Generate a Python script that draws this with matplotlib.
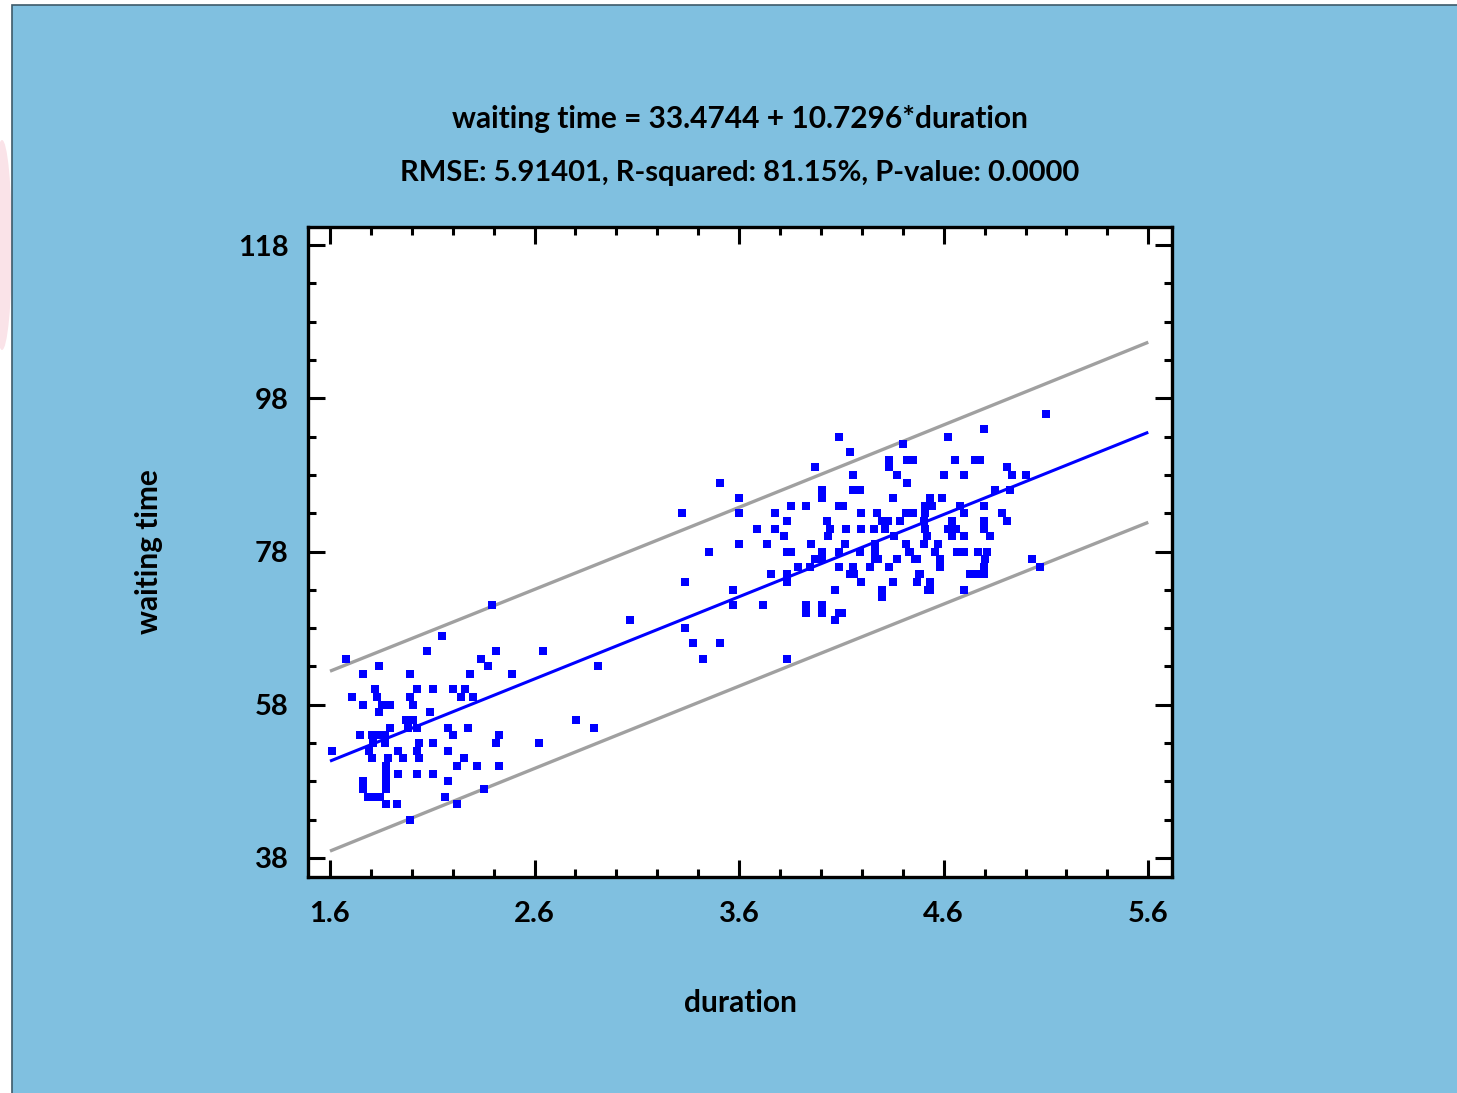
import numpy as np
import matplotlib
matplotlib.use("Agg")
import matplotlib.pyplot as plt
from matplotlib.patches import Rectangle, Ellipse

# values (eruption duration, waiting time)
duration = [
    1.678, 2.073, 1.841, 1.760, 1.991, 1.706, 1.760, 1.820, 1.831, 1.853,
    1.893, 1.841, 2.027, 1.991, 2.004, 2.105, 2.203, 2.089, 1.972, 2.007,
    1.983, 2.024, 1.893, 1.747, 1.804, 1.836, 1.869, 1.812, 1.869, 1.792,
    2.178, 2.203, 2.037, 2.105, 1.608, 1.934, 2.024, 2.178, 1.804, 1.885,
    1.955, 2.037, 1.874, 1.874, 1.874, 2.220, 1.931, 2.024, 2.105, 1.760,
    1.760, 1.787, 1.820, 1.845, 1.874, 2.178, 2.162, 1.874, 1.929, 2.220,
    1.991,
    2.391, 2.146, 2.412, 2.640, 2.338, 2.374, 2.285, 2.488, 2.909, 2.260,
    2.239, 2.301, 2.276, 2.428, 2.412, 2.803, 2.891, 2.623, 2.257, 2.320,
    2.428, 2.355,
    3.504, 3.597, 3.597, 3.320, 3.597, 3.453, 3.336, 3.569, 3.569, 3.067,
    3.336, 3.372, 3.507, 3.425,
    3.972, 4.004, 4.004, 4.159, 4.159, 3.854, 3.926, 4.086, 4.110, 3.776,
    4.197, 3.833, 4.029, 3.686, 3.776, 4.045, 4.120, 4.197, 3.817, 4.032,
    3.735, 3.951, 4.118, 3.833, 3.854, 4.004, 4.086, 3.972, 4.004, 3.890,
    3.947, 4.086, 4.159, 3.755, 3.833, 3.833, 4.140, 4.160, 4.197, 4.069,
    3.719, 3.926, 4.004, 3.926, 4.004, 4.086, 4.102, 4.069, 3.833,
    4.086, 4.140, 4.403, 4.335, 4.335, 4.420, 4.450, 4.371, 4.423, 4.192,
    4.351, 4.276, 4.418, 4.450, 4.298, 4.330, 4.387, 4.259, 4.314, 4.355,
    4.265, 4.418, 4.436, 4.192, 4.265, 4.281, 4.240, 4.265, 4.335, 4.371,
    4.469, 4.477, 4.469, 4.351, 4.298, 4.298,
    4.798, 4.620, 4.656, 4.751, 4.778, 4.909, 4.933, 4.602, 4.700, 4.852,
    4.531, 4.591, 4.510, 4.542, 4.681, 4.795, 4.510, 4.697, 4.885, 4.909,
    4.505, 4.639, 4.795, 4.510, 4.621, 4.662, 4.795, 4.639, 4.697, 4.827,
    4.520, 4.505, 4.572, 4.429, 4.462, 4.558, 4.583, 4.664, 4.697, 4.770,
    4.811, 4.803, 4.583, 4.795, 4.485, 4.730, 4.762, 4.795, 4.534, 4.523,
    4.534, 4.697,
    5.101, 5.004, 4.925, 5.031, 5.072,
]
waiting = [
    64, 65, 63, 62, 62, 59, 58, 60, 59, 58,
    58, 57, 60, 59, 58, 60, 60, 57, 56, 56,
    55, 55, 55, 54, 54, 54, 54, 53, 53, 52,
    55, 54, 53, 53, 52, 52, 52, 52, 51, 51,
    51, 51, 50, 49, 48, 50, 49, 49, 49, 48,
    47, 46, 46, 46, 47, 48, 46, 45, 45, 45,
    43,
    71, 67, 65, 65, 64, 63, 62, 62, 63, 60,
    59, 59, 55, 54, 53, 56, 55, 53, 51, 50,
    50, 47,
    87, 85, 83, 83, 79, 78, 74, 73, 71, 69,
    68, 66, 66, 64,
    89, 86, 85, 88, 86, 84, 84, 84, 84, 83,
    83, 82, 82, 81, 81, 81, 81, 81, 80, 80,
    79, 79, 79, 78, 78, 78, 78, 77, 77, 76,
    76, 76, 76, 75, 75, 74, 75, 75, 74, 73,
    71, 71, 71, 70, 70, 70, 70, 69, 64,
    93, 91, 92, 90, 89, 90, 90, 88, 87, 86,
    85, 83, 83, 83, 82, 82, 82, 81, 81, 80,
    79, 79, 78, 78, 78, 77, 76, 77, 76, 77,
    77, 75, 74, 74, 73, 72,
    94, 93, 90, 90, 90, 89, 88, 88, 88, 86,
    85, 85, 84, 84, 84, 84, 83, 83, 83, 82,
    82, 82, 82, 81, 81, 81, 81, 80, 80, 80,
    80, 79, 79, 78, 77, 78, 77, 78, 78, 78,
    78, 77, 76, 76, 75, 75, 75, 75, 74, 73,
    73, 73,
    96, 88, 86, 77, 76,
]

# fitted model as printed on the chart
intercept = 33.4744
slope = 10.7296
rmse = 5.91401
t_crit = 1.9688

x = np.array(duration)
y = np.array(waiting)
n = len(x)
xbar = x.mean()
sxx = ((x - xbar) ** 2).sum()

xs = np.linspace(1.6, 5.6, 100)
fit = intercept + slope * xs
half = t_crit * rmse * np.sqrt(1 + 1 / n + (xs - xbar) ** 2 / sxx)

plt.rcParams['font.family'] = ['Lato', 'DejaVu Sans']

W, H = 1457, 1093
fig = plt.figure(figsize=(W / 100, H / 100), dpi=100)
fig.patch.set_facecolor('white')

# blue panel with a dark edge on left/top, plus the pink smudge at the left margin
fig.add_artist(Ellipse((2 / W, 1 - 245 / H), 20 / W, 210 / H, transform=fig.transFigure,
                       facecolor='#fae0e6', edgecolor='none', alpha=0.9, zorder=0))
fig.add_artist(Rectangle((12 / W, -0.05), 1.1, 1.05 - 5 / H, transform=fig.transFigure,
                         facecolor='#80c0e0', edgecolor='#3d5a6a', linewidth=1.2, zorder=0))

ax = fig.add_axes([308 / W, 1 - 877 / H, 864 / W, 650 / H])
ax.set_facecolor('white')

ax.plot(xs, fit + half, color='#a0a0a0', lw=2.4, solid_capstyle='butt')
ax.plot(xs, fit - half, color='#a0a0a0', lw=2.4, solid_capstyle='butt')
ax.plot(xs, fit, color='#0000ff', lw=2.2, solid_capstyle='butt')
ax.plot(x, y, 's', color='#0000ff', markersize=5.8, markeredgewidth=0)

ax.set_xlim(1.4924, 5.716)
ax.set_ylim(35.52, 120.35)
ax.set_xticks([1.6, 2.6, 3.6, 4.6, 5.6])
ax.set_yticks([38, 58, 78, 98, 118])
ax.set_xticks(np.arange(1.6, 5.61, 0.2), minor=True)
ax.set_yticks(np.arange(38, 119, 5), minor=True)

ax.tick_params(which='both', direction='in', top=True, right=True, width=2.2, color='black')
ax.tick_params(which='major', length=12, labelsize=21)
ax.tick_params(axis='x', which='major', pad=17)
ax.tick_params(axis='y', which='major', pad=14)
ax.tick_params(which='minor', length=6)
for lab in ax.get_xticklabels() + ax.get_yticklabels():
    lab.set_fontweight('bold')
for sp in ax.spines.values():
    sp.set_linewidth(2.4)

ax.set_xlabel('duration', fontsize=21.5, fontweight='bold', labelpad=45)
ax.set_ylabel('waiting time', fontsize=21.5, fontweight='bold', labelpad=54)

fig.text(740 / W, 1 - 119 / H, 'waiting time = 33.4744 + 10.7296*duration',
         ha='center', va='center', fontsize=21.5, fontweight='bold')
fig.text(740 / W, 1 - 173 / H, 'RMSE: 5.91401, R-squared: 81.15%, P-value: 0.0000',
         ha='center', va='center', fontsize=21, fontweight='bold')

fig.savefig('out.png', dpi=100, facecolor=fig.get_facecolor())
